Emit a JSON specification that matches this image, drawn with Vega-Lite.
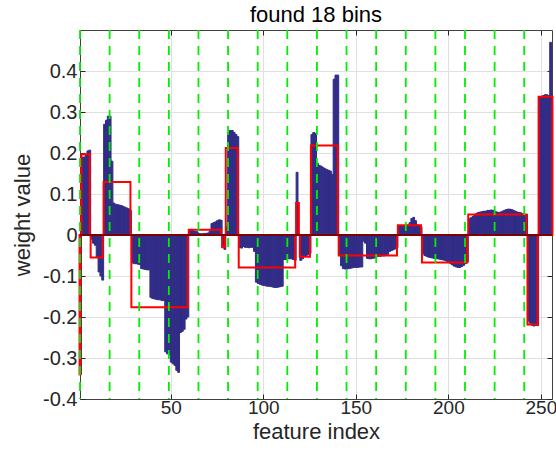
{
"$schema": "https://vega.github.io/schema/vega-lite/v6.json",
"width": 472, "height": 369,
"autosize": {"type": "none"},
"padding": {"left": 80, "top": 30, "right": 4, "bottom": 55},
"title": {"text": "found 18 bins", "fontSize": 22, "font": "Liberation Sans", "fontWeight": "normal", "color": "#000000", "offset": 2},
"datasets": {
"w": [
{"i":1,"w":-0.34},{"i":2,"w":0.19},{"i":3,"w":0.19},{"i":4,"w":0.195},{"i":5,"w":0.205},{"i":6,"w":0.207},
{"i":7,"w":-0.01},{"i":8,"w":-0.02},{"i":9,"w":-0.025},{"i":10,"w":-0.055},{"i":11,"w":-0.09},{"i":12,"w":-0.1},{"i":13,"w":-0.11},
{"i":14,"w":0.27},{"i":15,"w":0.28},{"i":16,"w":0.29},{"i":17,"w":0.29},{"i":18,"w":0.18},
{"i":19,"w":0.078},{"i":20,"w":0.075},{"i":21,"w":0.074},{"i":22,"w":0.073},{"i":23,"w":0.072},{"i":24,"w":0.07},{"i":25,"w":0.068},{"i":26,"w":0.066},{"i":27,"w":0.064},{"i":28,"w":0.06},
{"i":29,"w":-0.068},{"i":30,"w":-0.07},{"i":31,"w":-0.07},{"i":32,"w":-0.071},{"i":33,"w":-0.072},
{"i":34,"w":-0.082},{"i":35,"w":-0.083},{"i":36,"w":-0.084},{"i":37,"w":-0.085},{"i":38,"w":-0.085},
{"i":39,"w":-0.152},{"i":40,"w":-0.155},{"i":41,"w":-0.156},{"i":42,"w":-0.157},{"i":43,"w":-0.158},{"i":44,"w":-0.158},{"i":45,"w":-0.16},{"i":46,"w":-0.16},
{"i":47,"w":-0.285},{"i":48,"w":-0.29},{"i":49,"w":-0.292},{"i":50,"w":-0.31},{"i":51,"w":-0.314},{"i":52,"w":-0.318},{"i":53,"w":-0.33},{"i":54,"w":-0.335},
{"i":55,"w":-0.238},{"i":56,"w":-0.235},{"i":57,"w":-0.23},{"i":58,"w":-0.205},{"i":59,"w":-0.2},
{"i":60,"w":0.011},{"i":61,"w":0.011},{"i":62,"w":0.01},{"i":63,"w":0.009},{"i":64,"w":0.008},
{"i":65,"w":0.004},{"i":66,"w":0.003},{"i":67,"w":0.003},{"i":68,"w":0.004},{"i":69,"w":0.004},{"i":70,"w":0.005},{"i":71,"w":0.01},
{"i":72,"w":0.028},{"i":73,"w":0.03},{"i":74,"w":0.032},{"i":75,"w":0.035},{"i":76,"w":0.037},{"i":77,"w":0.036},
{"i":78,"w":-0.025},{"i":79,"w":-0.035},
{"i":80,"w":0.02},{"i":81,"w":0.25},{"i":82,"w":0.255},{"i":83,"w":0.255},{"i":84,"w":0.25},{"i":85,"w":0.245},{"i":86,"w":0.24},
{"i":87,"w":-0.03},{"i":88,"w":-0.032},{"i":89,"w":-0.028},{"i":90,"w":-0.03},{"i":91,"w":-0.03},{"i":92,"w":-0.031},{"i":93,"w":-0.03},{"i":94,"w":-0.03},{"i":95,"w":-0.04},
{"i":96,"w":-0.115},{"i":97,"w":-0.118},{"i":98,"w":-0.12},{"i":99,"w":-0.122},{"i":100,"w":-0.123},{"i":101,"w":-0.124},{"i":102,"w":-0.125},{"i":103,"w":-0.125},{"i":104,"w":-0.126},{"i":105,"w":-0.127},{"i":106,"w":-0.128},{"i":107,"w":-0.128},{"i":108,"w":-0.127},{"i":109,"w":-0.126},{"i":110,"w":-0.125},
{"i":111,"w":-0.06},{"i":112,"w":-0.06},{"i":113,"w":-0.058},{"i":114,"w":-0.058},{"i":115,"w":-0.058},{"i":116,"w":-0.06},{"i":117,"w":-0.062},
{"i":118,"w":0.153},{"i":119,"w":0.003},
{"i":120,"w":-0.062},{"i":121,"w":-0.058},{"i":122,"w":-0.052},{"i":123,"w":-0.05},{"i":124,"w":-0.048},{"i":125,"w":-0.045},
{"i":126,"w":0.245},{"i":127,"w":0.25},{"i":128,"w":0.248},{"i":129,"w":0.175},{"i":130,"w":0.17},{"i":131,"w":0.168},{"i":132,"w":0.165},{"i":133,"w":0.162},{"i":134,"w":0.16},{"i":135,"w":0.158},{"i":136,"w":0.156},{"i":137,"w":0.148},{"i":138,"w":0.38},{"i":139,"w":0.39},{"i":140,"w":0.39},
{"i":141,"w":-0.05},{"i":142,"w":-0.075},{"i":143,"w":-0.082},{"i":144,"w":-0.083},{"i":145,"w":-0.083},{"i":146,"w":-0.082},{"i":147,"w":-0.081},{"i":148,"w":-0.08},{"i":149,"w":-0.079},{"i":150,"w":-0.079},{"i":151,"w":-0.079},{"i":152,"w":-0.078},{"i":153,"w":-0.078},{"i":154,"w":-0.015},{"i":155,"w":-0.02},{"i":156,"w":-0.057},{"i":157,"w":-0.058},{"i":158,"w":-0.058},{"i":159,"w":-0.057},{"i":160,"w":-0.056},{"i":161,"w":-0.053},{"i":162,"w":-0.052},{"i":163,"w":-0.052},{"i":164,"w":-0.051},{"i":165,"w":-0.051},{"i":166,"w":-0.05},{"i":167,"w":-0.048},{"i":168,"w":-0.04},{"i":169,"w":-0.038},{"i":170,"w":-0.036},{"i":171,"w":-0.034},{"i":172,"w":-0.031},
{"i":173,"w":0.02},{"i":174,"w":0.022},{"i":175,"w":0.022},{"i":176,"w":0.022},{"i":177,"w":0.023},{"i":178,"w":0.024},{"i":179,"w":0.03},{"i":180,"w":0.04},{"i":181,"w":0.043},{"i":182,"w":0.035},{"i":183,"w":0.025},{"i":184,"w":0.022},{"i":185,"w":0.02},
{"i":186,"w":-0.045},{"i":187,"w":-0.05},{"i":188,"w":-0.052},{"i":189,"w":-0.054},{"i":190,"w":-0.055},{"i":191,"w":-0.056},{"i":192,"w":-0.057},{"i":193,"w":-0.058},{"i":194,"w":-0.058},{"i":195,"w":-0.059},{"i":196,"w":-0.06},{"i":197,"w":-0.061},{"i":198,"w":-0.062},{"i":199,"w":-0.064},{"i":200,"w":-0.067},{"i":201,"w":-0.07},{"i":202,"w":-0.073},{"i":203,"w":-0.076},{"i":204,"w":-0.078},{"i":205,"w":-0.079},{"i":206,"w":-0.079},{"i":207,"w":-0.077},{"i":208,"w":-0.074},{"i":209,"w":-0.07},{"i":210,"w":-0.066},
{"i":211,"w":0.04},{"i":212,"w":0.042},{"i":213,"w":0.045},{"i":214,"w":0.05},{"i":215,"w":0.053},{"i":216,"w":0.055},{"i":217,"w":0.056},{"i":218,"w":0.057},{"i":219,"w":0.058},{"i":220,"w":0.058},{"i":221,"w":0.06},{"i":222,"w":0.06},{"i":223,"w":0.061},{"i":224,"w":0.06},{"i":225,"w":0.058},{"i":226,"w":0.056},{"i":227,"w":0.055},{"i":228,"w":0.056},{"i":229,"w":0.058},{"i":230,"w":0.06},{"i":231,"w":0.062},{"i":232,"w":0.063},{"i":233,"w":0.063},{"i":234,"w":0.062},{"i":235,"w":0.06},{"i":236,"w":0.058},{"i":237,"w":0.056},{"i":238,"w":0.055},{"i":239,"w":0.054},{"i":240,"w":0.052},{"i":241,"w":0.05},{"i":242,"w":0.05},
{"i":243,"w":-0.21},{"i":244,"w":-0.215},{"i":245,"w":-0.22},{"i":246,"w":-0.222},{"i":247,"w":-0.22},{"i":248,"w":-0.221},
{"i":249,"w":0.335},{"i":250,"w":0.338},{"i":251,"w":0.34},{"i":252,"w":0.342},{"i":253,"w":0.342},{"i":254,"w":0.34},{"i":255,"w":0.47},{"i":256,"w":0.345}
],
"bins": [
{"lo":0.75,"hi":1.25,"m":-0.34},{"lo":1.75,"hi":6.25,"m":0.197},{"lo":6.75,"hi":13.25,"m":-0.055},{"lo":13.75,"hi":28.25,"m":0.129},
{"lo":28.75,"hi":59.25,"m":-0.176},{"lo":59.75,"hi":77.25,"m":0.013},{"lo":77.75,"hi":79.25,"m":-0.03},{"lo":79.75,"hi":86.25,"m":0.212},
{"lo":86.75,"hi":117.25,"m":-0.079},{"lo":117.75,"hi":119.25,"m":0.078},{"lo":119.75,"hi":125.25,"m":-0.053},{"lo":125.75,"hi":140.25,"m":0.218},
{"lo":140.75,"hi":172.25,"m":-0.05},{"lo":172.75,"hi":185.25,"m":0.024},{"lo":185.75,"hi":210.25,"m":-0.067},{"lo":210.75,"hi":242.25,"m":0.05},
{"lo":242.75,"hi":248.25,"m":-0.218},{"lo":248.75,"hi":256.25,"m":0.337}
],
"edges": [{"x":1},{"x":17},{"x":33},{"x":49},{"x":65},{"x":81},{"x":97},{"x":113},{"x":129},{"x":145},{"x":161},{"x":177},{"x":193},{"x":209},{"x":225},{"x":241}],
"zero": [{"y":0}]
},
"resolve": {"axis": {"x": "independent", "y": "independent"}},
"layer": [
{
"data": {"name": "w"},
"mark": {"type": "bar", "color": "#312d87", "stroke": "#312d87", "strokeWidth": 1, "binSpacing": 0, "clip": true},
"encoding": {
"x": {"field": "i", "type": "quantitative", "bin": {"step": 1, "extent": [0.5, 256.5], "nice": false},
"scale": {"domain": [1, 256], "nice": false, "zero": false},
"axis": {"values": [50, 100, 150, 200, 250], "format": "d", "title": "feature index", "orient": "bottom", "grid": true, "labelPadding": 4, "titlePadding": 4, "labelFontSize": 19}},
"y": {"field": "w", "type": "quantitative",
"scale": {"domain": [-0.4, 0.5], "nice": false, "zero": false},
"axis": {"values": [-0.4, -0.3, -0.2, -0.1, 0, 0.1, 0.2, 0.3, 0.4], "title": "weight value", "orient": "left", "grid": true, "labelPadding": 8, "titlePadding": 8,
"labelExpr": "datum.value < -0.001 ? '-' + format(-datum.value, '.1f') : (datum.value > 0.001 ? format(datum.value, '.1f') : '0')"}}
}
},
{
"data": {"name": "bins"},
"mark": {"type": "rect", "fill": null, "fillOpacity": 0, "stroke": "#ff0000", "strokeWidth": 2, "clip": false},
"encoding": {
"x": {"field": "lo", "type": "quantitative", "scale": {"domain": [1, 256], "nice": false, "zero": false}, "axis": null},
"x2": {"field": "hi"},
"y": {"field": "m", "type": "quantitative", "scale": {"domain": [-0.4, 0.5], "nice": false, "zero": false}, "axis": null},
"y2": {"datum": 0}
}
},
{
"data": {"name": "zero"},
"mark": {"type": "rule", "color": "#000000", "strokeWidth": 1},
"encoding": {
"y": {"field": "y", "type": "quantitative", "scale": {"domain": [-0.4, 0.5], "nice": false, "zero": false},
"axis": {"orient": "right", "values": [-0.4, -0.3, -0.2, -0.1, 0, 0.1, 0.2, 0.3, 0.4], "labels": false, "title": null, "grid": false}}
}
},
{
"data": {"name": "edges"},
"mark": {"type": "rule", "color": "#00ee00", "strokeWidth": 1.8, "strokeDash": [9, 7]},
"encoding": {
"x": {"field": "x", "type": "quantitative", "scale": {"domain": [1, 256], "nice": false, "zero": false},
"axis": {"orient": "top", "values": [50, 100, 150, 200, 250], "labels": false, "title": null, "grid": false}}
}
}
],
"config": {
"view": {"stroke": null},
"axis": {
"labelFont": "Liberation Sans", "labelFontSize": 20, "labelColor": "#262626",
"titleFont": "Liberation Sans", "titleFontSize": 22, "titleFontWeight": "normal", "titleColor": "#262626",
"domainColor": "#404040", "domainWidth": 1, "tickColor": "#262626", "tickSize": -5, "tickWidth": 1,
"gridColor": "#e0e0e0", "gridWidth": 1
}
}
}
